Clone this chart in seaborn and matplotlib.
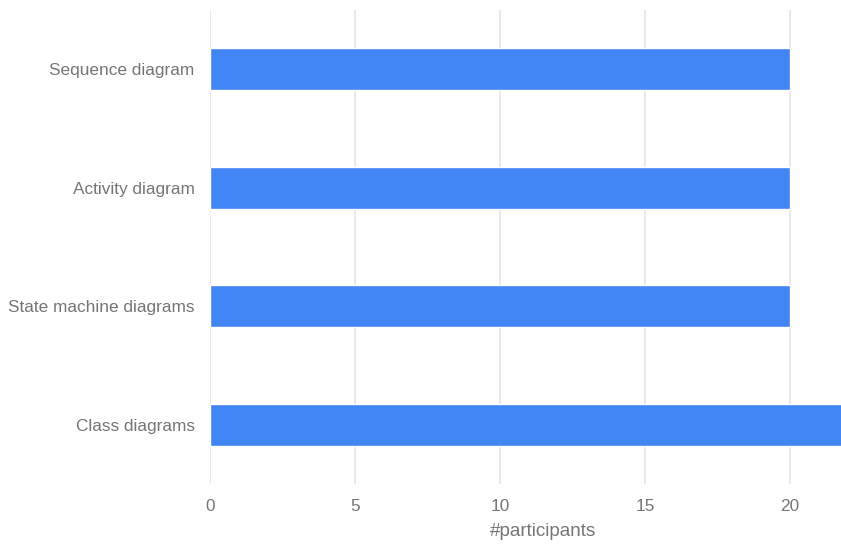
import matplotlib
matplotlib.use("Agg")
import matplotlib.pyplot as plt
import seaborn as sns
import pandas as pd

categories = ["Sequence diagram", "Activity diagram", "State machine diagrams", "Class diagrams"]
participants = [20, 20, 20, 22]
x_ticks = [0, 5, 10, 15, 20]

df = pd.DataFrame({"diagram": categories, "participants": participants})

sns.set_theme(style="white")
plt.rcParams["font.family"] = ["Liberation Sans", "DejaVu Sans"]

text_color = "#757575"
fig = plt.figure(figsize=(8.41, 5.47), dpi=100)
ax = fig.add_axes([210 / 841, 1 - 484 / 547, 631 / 841, 474 / 547])

sns.barplot(data=df, x="participants", y="diagram", order=categories,
            color="#4285F4", saturation=1, width=0.354, ax=ax, zorder=3)

ax.set_xlim(0, 631 / 29)
ax.set_ylim(len(categories) - 0.5, -0.5)
ax.set_xticks(x_ticks)
ax.set_xticklabels([str(t) for t in x_ticks])
ax.grid(axis="x", color="#e3e3e3", linewidth=1.1, zorder=0)
ax.grid(axis="y", visible=False)
for s in ax.spines.values():
    s.set_visible(False)

ax.tick_params(axis="both", length=0, labelsize=12.4, labelcolor=text_color)
ax.tick_params(axis="y", pad=11)
ax.tick_params(axis="x", pad=11)
ax.set_ylabel("")
ax.set_xlabel("#participants", fontsize=13.6, color=text_color)
ax.xaxis.set_label_coords(0.528, -0.083)

fig.savefig("out.png", dpi=100)
